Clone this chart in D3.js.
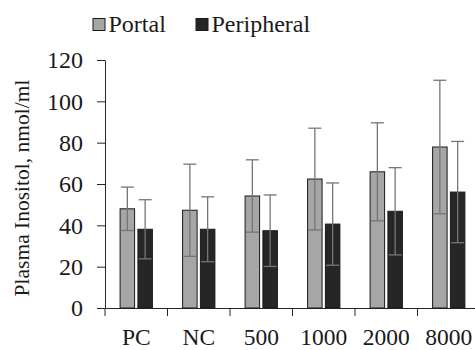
<!DOCTYPE html>
<html><head><meta charset="utf-8">
<script src="https://cdn.jsdelivr.net/npm/d3@7/dist/d3.min.js"></script>
<style>html,body{margin:0;padding:0;background:#fff;}svg{display:block;}
svg text{font-family:'Liberation Serif','Times New Roman',serif;fill:#1a1a1a;}</style>
</head><body>
<svg id="chart" width="475" height="350"></svg>
<script>
const categories = ["PC", "NC", "500", "1000", "2000", "8000"];
const seriesNames = ["Portal", "Peripheral"];
const portalMean = [48.0, 47.3, 54.2, 62.4, 65.9, 77.9];
const portalSD = [10.5, 22.3, 17.5, 24.6, 23.7, 32.3];
const peripheralMean = [38.1, 38.1, 37.4, 40.6, 46.8, 56.1];
const peripheralSD = [14.3, 15.7, 17.3, 19.9, 21.1, 24.5];
const yTicks = [0, 20, 40, 60, 80, 100, 120];

const colors = {Portal: "#a6a6a6", Peripheral: "#262626"};
const svg = d3.select("#chart");

const x = d3.scaleBand().domain(categories).range([105, 480]).padding(0);
const y = d3.scaleLinear().domain([0, 120]).range([308, 60]);

const barW = x.bandwidth() * 0.232;
const gap = 3.3;

// Y axis
const yAxis = svg.append("g").attr("transform", "translate(105,0)")
  .call(d3.axisLeft(y).tickValues(yTicks).tickSize(8).tickPadding(14).tickSizeOuter(0));
yAxis.attr("font-family", null).attr("font-size", null);
yAxis.select(".domain").attr("stroke", "#262626");
yAxis.selectAll(".tick line").attr("stroke", "#262626");
yAxis.selectAll(".tick text").style("font-size", "24px").attr("fill", "#1a1a1a");

// X axis
const xAxis = svg.append("g").attr("transform", "translate(0,308)")
  .call(d3.axisBottom(x).tickSize(0).tickPadding(0).tickSizeOuter(0));
xAxis.attr("font-family", null).attr("font-size", null);
xAxis.select(".domain").attr("stroke", "#262626");
xAxis.selectAll(".tick line").remove();
xAxis.selectAll(".tick text").style("font-size", "23.5px")
  .attr("fill", "#1a1a1a").attr("dy", null).attr("y", 36.5);
// category separator ticks
svg.append("g").selectAll("line").data(categories).join("line")
  .attr("x1", d => x(d)).attr("x2", d => x(d))
  .attr("y1", 308).attr("y2", 316).attr("stroke", "#262626");

const rows = categories.map((c, i) => ({
  c, vals: [
    {s: "Portal", m: portalMean[i], sd: portalSD[i], off: -gap / 2 - barW},
    {s: "Peripheral", m: peripheralMean[i], sd: peripheralSD[i], off: gap / 2}
  ]
}));
const groups = svg.append("g").selectAll("g").data(rows).join("g")
  .attr("transform", d => `translate(${x(d.c) + x.bandwidth() / 2},0)`);

groups.selectAll("rect").data(d => d.vals).join("rect")
  .attr("x", d => d.off).attr("width", barW)
  .attr("y", d => y(d.m)).attr("height", d => y(0) - y(d.m))
  .attr("fill", d => colors[d.s]).attr("stroke", "#1a1a1a").attr("stroke-width", 1);

const capW = 13;
const eb = groups.selectAll("g.eb").data(d => d.vals).join("g").attr("class", "eb")
  .attr("stroke", "#767676").attr("stroke-width", 1.3);
eb.append("line").attr("x1", d => d.off + barW / 2).attr("x2", d => d.off + barW / 2)
  .attr("y1", d => y(d.m + d.sd)).attr("y2", d => y(d.m - d.sd));
eb.append("line").attr("x1", d => d.off + barW / 2 - capW / 2).attr("x2", d => d.off + barW / 2 + capW / 2)
  .attr("y1", d => y(d.m + d.sd)).attr("y2", d => y(d.m + d.sd));
eb.append("line").attr("x1", d => d.off + barW / 2 - capW / 2).attr("x2", d => d.off + barW / 2 + capW / 2)
  .attr("y1", d => y(d.m - d.sd)).attr("y2", d => y(d.m - d.sd));

// Y label
svg.append("text").attr("transform", "translate(29,188) rotate(-90)")
  .attr("text-anchor", "middle").style("font-size", "21.5px")
  .text("Plasma Inositol, nmol/ml");

// Legend
const legX = [93, 196];
const leg = svg.append("g").selectAll("g").data(seriesNames).join("g")
  .attr("transform", (d, i) => `translate(${legX[i]},0)`);
leg.append("rect").attr("x", 0).attr("y", 18.5).attr("width", 12).attr("height", 12)
  .attr("fill", d => colors[d]).attr("stroke", "#1a1a1a").attr("stroke-width", 1);
leg.append("text").attr("x", 15.5).attr("y", 32).style("font-size", "24px")
  .text(d => d);
</script>
</body></html>
